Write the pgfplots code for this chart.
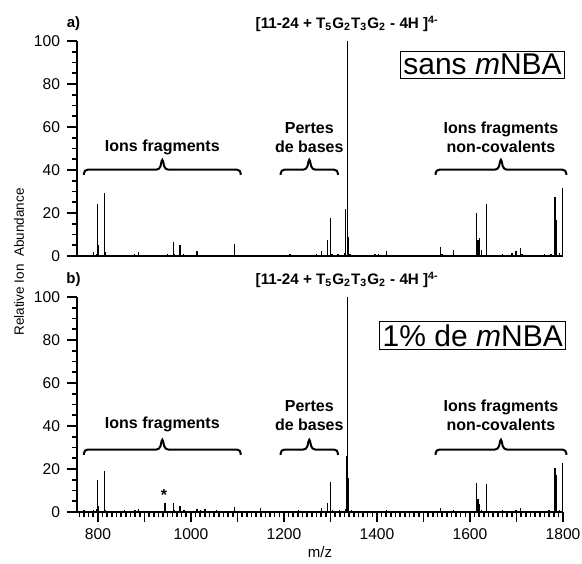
\documentclass[border=0pt]{standalone}
\usepackage{fontspec}
\setmainfont{Liberation Sans}
\usepackage{pgfplots}
\pgfplotsset{compat=1.18}

\pgfplotstableread{
mz val
780 0.3
790 2
797 1
798.5 24.4
800 5
813.5 29.5
815 2
830 0.5
850 0.4
870 0.6
878 1
887 2
900 0.5
930 0.5
950 0.8
962 6.5
965 1
976.5 5
983.5 1
1000 0.5
1013 2.5
1030 0.4
1060 0.4
1094 5.5
1139 0.6
1150 0.4
1180 0.4
1213 0.7
1240 0.5
1262 0.6
1270 0.8
1280 2.5
1294 7.5
1299.5 17.5
1303 1
1316 1
1330 1.2
1333 22
1336 100
1339 9
1342 1
1360 0.5
1390 0.6
1396 0.7
1404 0.8
1420 2.3
1470 0.4
1500 0.5
1515 0.6
1537 4
1540 1
1564 2.8
1600 0.5
1613.5 20
1617 7.4
1620.5 8.6
1624 2.8
1636 24
1645 0.6
1660 0.5
1670 0.8
1680 0.6
1690 1.2
1699 2.3
1709 3.7
1712 1
1740 0.5
1760 0.7
1774 1
1783 27.5
1786 16.7
1792 1.5
1799.5 31.8
}\specA

\pgfplotstableread{
mz val
770 0.8
780 0.6
790 1
797 1.3
798.5 14.7
800 2.6
813.5 19.3
816 1
825 0.6
840 0.6
857.5 0.8
870 0.7
880 1
887 1.2
900 0.5
915 0.6
930 0.7
944 4.3
962 4
965 1
976.5 2.6
985 0.8
1000 0.6
1013 1.2
1020 1.0
1030 1.5
1040 0.7
1055 0.8
1075 0.6
1094 2.2
1110 0.6
1130 0.7
1149 1.8
1170 0.5
1190 0.6
1210 0.7
1231 0.8
1250 0.6
1265 0.7
1280 1.8
1294 4
1299.5 14
1305 0.8
1320 0.9
1332 1.5
1334 26
1336 100
1338 16
1345 0.8
1370 0.6
1400 0.7
1420 1
1450 0.6
1480 0.6
1510 0.6
1537 1.8
1550 0.6
1564 1
1580 0.5
1600 0.6
1613.5 13.4
1617 6
1621 3.7
1625 1
1636 13
1650 0.6
1670 0.8
1690 0.7
1699 1
1709 2
1730 0.6
1755 0.6
1770 0.8
1783 20.7
1786 17
1792 1
1799.5 23
}\specB

\pgfplotsset{
  spec/.style={
    scale only axis, width=243pt, height=107.5pt,
    xmin=755, xmax=1800, ymin=0, ymax=100,
    axis lines*=left,
    axis line style={line width=0.8pt},
    ytick={0,20,...,100},
    minor y tick num=3,
    tick align=outside,
    major tick length=5pt, minor tick length=2.5pt,
    every tick/.style={black, line width=0.8pt},
    tick label style={font=\fontsize{7.8}{9.4}\selectfont},
    /pgf/number format/assume math mode=true,
    /pgf/number format/1000 sep={},
    clip=false,
  },
}
\tikzset{
  brlab/.style={font=\bfseries\fontsize{8}{9.5}\selectfont, align=center},
}
% bracket: x1, xmid, x2, y
\newcommand{\bracket}[4]{%
  \draw[line width=1pt, rounded corners=1.8pt]
    (axis cs:#1,#4) -- ([yshift=2.6pt]axis cs:#1,#4)
    -- ([shift={(-1.3pt,2.6pt)}]axis cs:#2,#4)
    -- ([shift={(0pt,8.6pt)}]axis cs:#2,#4)
    -- ([shift={(1.3pt,2.6pt)}]axis cs:#2,#4)
    -- ([yshift=2.6pt]axis cs:#3,#4) -- (axis cs:#3,#4);}

\begin{document}
\begin{tikzpicture}
\path[use as bounding box] (-38.5pt,-25.5pt) rectangle (252.5pt,256pt);

\begin{axis}[spec, at={(0pt,128pt)}, anchor=south west, xmajorticks=false]
\addplot[ycomb, black, line width=0.65pt, mark=none] table[x=mz, y=val] {\specA};
\node[font=\bfseries\fontsize{7.5}{9}\selectfont] at (axis cs:747.5,108) {a)};
\node[font=\bfseries\fontsize{7.6}{9}\selectfont] at (axis cs:1336,108) {[11-24 + T\textsubscript{5}G\textsubscript{2}T\textsubscript{3}G\textsubscript{2} - 4H ]\textsuperscript{4-}};
\node[draw, fill=white, line width=0.5pt, inner sep=1.5pt, font=\fontsize{15}{18}\selectfont] at (axis cs:1627,89) {sans \textit{m}NBA};
\bracket{770}{938.5}{1107}{37.7}
\bracket{1193}{1254.5}{1316}{37.7}
\bracket{1526}{1666.5}{1807}{37.7}
\node[brlab] at (axis cs:938.5,50.7) {Ions fragments};
\node[brlab] at (axis cs:1254.5,55.1) {Pertes\\de bases};
\node[brlab] at (axis cs:1666.5,55.1) {Ions fragments\\non-covalents};
\end{axis}

\begin{axis}[spec, at={(0pt,0pt)}, anchor=south west,
  xtick={800,900,...,1800},
  xticklabels={800,,1000,,1200,,1400,,1600,,1800},
  minor xtick={760,770,...,1790},
  xlabel={m/z},
  xlabel style={font=\fontsize{7.5}{9}\selectfont, at={(axis description cs:0.5,-0.186)}, anchor=center},
]
\addplot[ycomb, black, line width=0.65pt, mark=none] table[x=mz, y=val] {\specB};
\node[font=\bfseries\fontsize{7.5}{9}\selectfont] at (axis cs:747.5,108) {b)};
\node[font=\bfseries\fontsize{7.6}{9}\selectfont] at (axis cs:1336,108) {[11-24 + T\textsubscript{5}G\textsubscript{2}T\textsubscript{3}G\textsubscript{2} - 4H ]\textsuperscript{4-}};
\node[draw, fill=white, line width=0.5pt, inner sep=1.5pt, font=\fontsize{15}{18}\selectfont] at (axis cs:1606,82) {1\% de \textit{m}NBA};
\node[font=\bfseries\fontsize{8}{9}\selectfont] at (axis cs:942,7.7) {*};
\bracket{770}{938.5}{1107}{26.6}
\bracket{1193}{1254.5}{1316}{26.6}
\bracket{1526}{1666.5}{1807}{26.6}
\node[brlab] at (axis cs:938.5,40.6) {Ions fragments};
\node[brlab] at (axis cs:1254.5,44.8) {Pertes\\de bases};
\node[brlab] at (axis cs:1666.5,44.8) {Ions fragments\\non-covalents};
\end{axis}

\node[rotate=90, font=\fontsize{6.75}{8}\selectfont] at (-29pt,125pt) {Relative Ion\ \ Abundance};
\end{tikzpicture}
\end{document}
